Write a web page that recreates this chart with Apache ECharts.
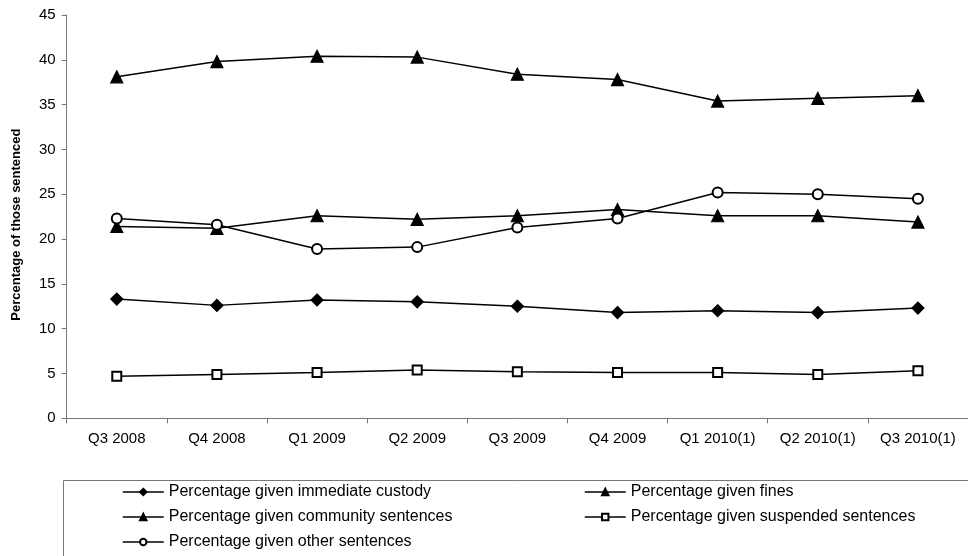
<!DOCTYPE html>
<html>
<head>
<meta charset="utf-8">
<script src="https://cdn.jsdelivr.net/npm/echarts@6/dist/echarts.min.js"></script>
<style>
  html, body { margin: 0; padding: 0; background: #fff; }
  #chart { width: 968px; height: 556px; }
</style>
</head>
<body>
<div id="chart"></div>
<script>
// Quarter labels along the x axis
const quarters = ['Q3 2008', 'Q4 2008', 'Q1 2009', 'Q2 2009', 'Q3 2009', 'Q4 2009', 'Q1 2010(1)', 'Q2 2010(1)', 'Q3 2010(1)'];

// Share of sentenced offenders by disposal type (%)
const custody   = [13.3, 12.6, 13.2, 13.0, 12.5, 11.8, 12.0, 11.8, 12.3];
const fines     = [38.1, 39.8, 40.4, 40.3, 38.4, 37.8, 35.4, 35.7, 36.0];
const community = [21.4, 21.2, 22.6, 22.2, 22.6, 23.3, 22.6, 22.6, 21.9];
const suspended = [4.7, 4.9, 5.1, 5.4, 5.2, 5.1, 5.1, 4.9, 5.3];
const other     = [22.3, 21.6, 18.9, 19.1, 21.3, 22.3, 25.2, 25.0, 24.5];

const yTicks = [0, 5, 10, 15, 20, 25, 30, 35, 40, 45];

// Series names, also used for the legend entries
const names = {
  custody: 'Percentage given immediate custody',
  fines: 'Percentage given fines',
  community: 'Percentage given community sentences',
  suspended: 'Percentage given suspended sentences',
  other: 'Percentage given other sentences'
};

const FONT = '"Liberation Sans", Arial, sans-serif';

function lineSeries(name, data, symbol, size) {
  return {
    name: name,
    type: 'line',
    data: data,
    symbol: symbol,
    symbolSize: size,
    showAllSymbol: true,
    lineStyle: { color: '#000', width: 1.5 },
    itemStyle: { color: '#000', borderColor: '#000', borderWidth: 1.2 },
    emphasis: { disabled: true },
    z: 3
  };
}

// One legend block per entry, laid out in two columns inside the box
function legendEntry(name, left, top) {
  return {
    orient: 'horizontal',
    left: left, top: top,
    itemWidth: 41, itemHeight: 8,
    lineStyle: { color: '#000', width: 1.5 },
    textStyle: { fontFamily: FONT, fontSize: 16, color: '#000' },
    data: [name],
    selectedMode: false
  };
}

const chart = echarts.init(document.getElementById('chart'), null, { renderer: 'canvas' });
chart.setOption({
  animation: false,
  backgroundColor: '#fff',
  grid: { left: 66.7, top: 15, right: -7, bottom: 137.7, containLabel: false },
  xAxis: {
    type: 'category',
    data: quarters,
    boundaryGap: true,
    axisLine: { lineStyle: { color: '#777', width: 1 } },
    axisTick: { show: true, length: 5, lineStyle: { color: '#777' } },
    axisLabel: { fontFamily: FONT, fontSize: 15, color: '#000', margin: 13, interval: 0 },
    splitLine: { show: false }
  },
  yAxis: {
    type: 'value',
    min: yTicks[0],
    max: yTicks[yTicks.length - 1],
    interval: 5,
    name: 'Percentage of those sentenced',
    nameLocation: 'middle',
    nameRotate: 90,
    nameGap: 44,
    nameTextStyle: { fontFamily: FONT, fontSize: 13, fontWeight: 'bold', color: '#000', padding: [0, 16, 0, 0] },
    axisLine: { show: true, lineStyle: { color: '#777', width: 1 } },
    axisTick: { show: true, length: 5, inside: false, lineStyle: { color: '#777' } },
    axisLabel: { fontFamily: FONT, fontSize: 15, color: '#000', margin: 11 },
    splitLine: { show: false }
  },
  legend: [
    legendEntry(names.custody, 117, 479),
    legendEntry(names.community, 117, 504),
    legendEntry(names.other, 117, 529),
    legendEntry(names.fines, 579, 479),
    legendEntry(names.suspended, 579, 504)
  ],
  graphic: [
    {
      type: 'rect',
      shape: { x: 63.5, y: 480.5, width: 920, height: 100 },
      style: { fill: 'none', stroke: '#777', lineWidth: 1 },
      silent: true,
      z: -1
    }
  ],
  series: [
    lineSeries(names.custody, custody, 'diamond', 12),
    lineSeries(names.fines, fines, 'triangle', 12),
    lineSeries(names.community, community, 'triangle', 12),
    lineSeries(names.suspended, suspended, 'emptyRect', 9),
    lineSeries(names.other, other, 'emptyCircle', 10)
  ]
});
</script>
</body>
</html>
